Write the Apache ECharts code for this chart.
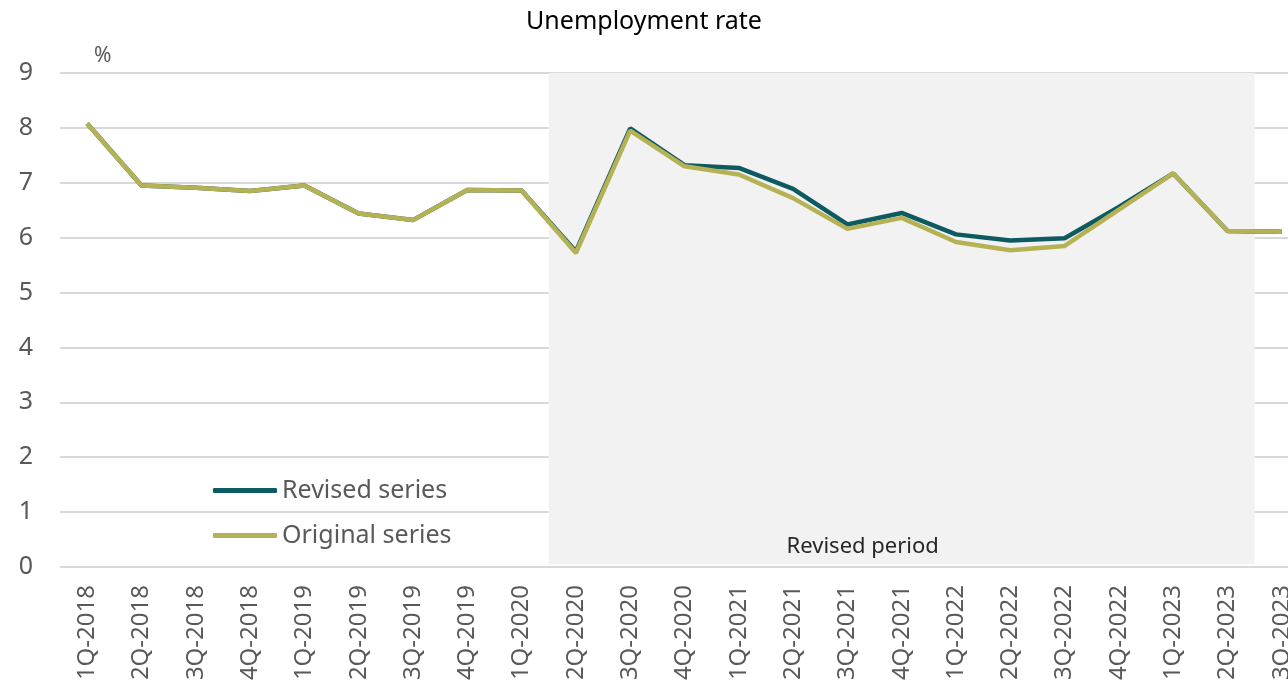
<!DOCTYPE html>
<html><head><meta charset="utf-8">
<script src="https://cdn.jsdelivr.net/npm/echarts@6/dist/echarts.min.js"></script>
<style>html,body{margin:0;padding:0;background:#fff}#c{width:1288px;height:687px}</style>
</head><body><div id="c"></div>
<script>
var categories = ['1Q-2018','2Q-2018','3Q-2018','4Q-2018','1Q-2019','2Q-2019','3Q-2019','4Q-2019','1Q-2020','2Q-2020','3Q-2020','4Q-2020','1Q-2021','2Q-2021','3Q-2021','4Q-2021','1Q-2022','2Q-2022','3Q-2022','4Q-2022','1Q-2023','2Q-2023','3Q-2023'];
var revised  = [8.08,6.95,6.91,6.85,6.95,6.44,6.32,6.87,6.86,5.75,7.99,7.32,7.27,6.89,6.24,6.45,6.06,5.95,5.99,6.56,7.17,6.12,6.11];
var original = [8.08,6.95,6.91,6.85,6.95,6.44,6.32,6.87,6.86,5.72,7.95,7.30,7.15,6.72,6.16,6.36,5.92,5.77,5.85,6.51,7.17,6.12,6.11];
var revisedPeriod = [8.5, 21.5];
var yTicks = {min: 0, max: 9, interval: 1};

var FONT = 'Noto Sans';
var chart = echarts.init(document.getElementById('c'));
chart.setOption({
  animation: false,
  title: {text: 'Unemployment rate', left: 'center', top: 4,
    textStyle: {fontFamily: FONT, fontSize: 25, fontWeight: 'normal', color: '#000'}},
  grid: {left: 60, width: 1249, top: 73, bottom: 120, containLabel: false, outerBoundsMode: 'none'},
  legend: {
    data: ['Revised series', 'Original series'], orient: 'vertical', left: 208, top: 473,
    itemWidth: 64, itemHeight: 5, itemGap: 20, icon: 'roundRect',
    textStyle: {fontFamily: FONT, fontSize: 25, color: '#595959'}
  },
  graphic: [{type: 'text', left: 94, top: 46, style: {text: '%', fontFamily: FONT, fontSize: 21, fill: '#595959'}}],
  xAxis: [{
    type: 'category', data: categories, boundaryGap: true,
    axisLine: {show: false}, axisTick: {show: false},
    axisLabel: {rotate: 90, fontFamily: FONT, fontSize: 24, color: '#595959', margin: 18, interval: 0}
  }, {
    type: 'value', min: -0.5, max: 22.5, show: false
  }],
  yAxis: {
    type: 'value', min: yTicks.min, max: yTicks.max, interval: yTicks.interval,
    axisLine: {show: false}, axisTick: {show: false},
    axisLabel: {fontFamily: FONT, fontSize: 25, color: '#595959', margin: 27},
    splitLine: {lineStyle: {color: '#d9d9d9', width: 2}}
  },
  series: [{
    type: 'line', xAxisIndex: 1, data: [], silent: true,
    markArea: {
      silent: true,
      itemStyle: {color: '#f2f2f2'},
      label: {show: true, position: 'insideBottom', distance: 7, offset: [-39, 0],
        fontFamily: FONT, fontSize: 22, color: '#262626'},
      data: [[{xAxis: revisedPeriod[0], yAxis: 9, name: 'Revised period'}, {xAxis: revisedPeriod[1], yAxis: 0.05}]]
    }
  }, {
    name: 'Revised series', type: 'line', data: revised, symbol: 'none', z: 3,
    lineStyle: {color: '#0e5a61', width: 4.5}, itemStyle: {color: '#0e5a61'}
  }, {
    name: 'Original series', type: 'line', data: original, symbol: 'none', z: 4,
    lineStyle: {color: '#b5b256', width: 4.5}, itemStyle: {color: '#b5b256'}
  }]
});
</script></body></html>
